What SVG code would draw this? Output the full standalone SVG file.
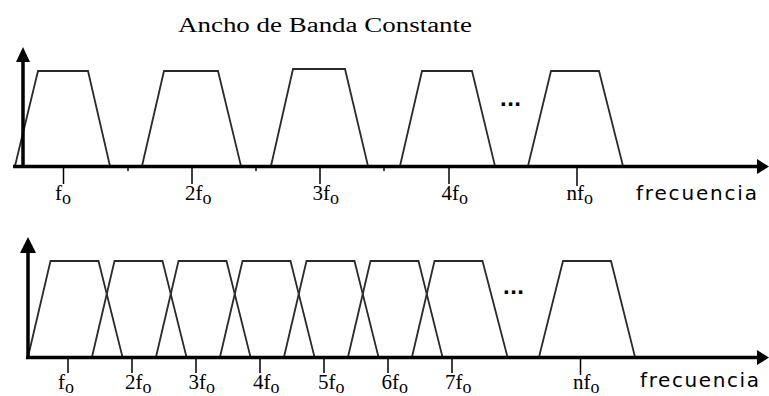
<svg xmlns="http://www.w3.org/2000/svg" width="769" height="396" viewBox="0 0 769 396">
<style>
.axis{stroke:#000;stroke-width:3.5;fill:none}
.tick{stroke:#000;stroke-width:1.5}
.band{fill:none;stroke:#2a2a2a;stroke-width:1.8;stroke-linejoin:miter}
.lbl{font-family:"Liberation Serif","Times New Roman",serif;font-size:21px;fill:#000}
.sub{font-size:18px}
.freq{font-family:"DejaVu Sans",Verdana,sans-serif;font-size:20px;fill:#000}
.dots{font-family:"Liberation Sans",Arial,sans-serif;font-size:24px;font-weight:bold;letter-spacing:0.5px;fill:#000}
.title{font-family:"Liberation Serif","Times New Roman",serif;font-size:20px;fill:#000}
</style>
<rect width="769" height="396" fill="#fff"/>
<text class="title" x="178" y="32" textLength="294" lengthAdjust="spacingAndGlyphs">Ancho de Banda Constante</text>

<g id="top-panel">
  <g id="top-bands">
    <polygon id="top-b1" class="band" points="15,166 38,71 88,71 110,166"/>
    <polygon id="top-b2" class="band" points="142,166 164,71 218,71 241,166"/>
    <polygon id="top-b3" class="band" points="271,166 293,69 345,69 368,166"/>
    <polygon id="top-b4" class="band" points="400,166 422,71 472,71 495,166"/>
    <polygon id="top-b5" class="band" points="528,166 551,71 599,71 623,166"/>
  </g>
  <g id="top-axes">
    <line class="axis" x1="23" y1="168" x2="23" y2="58"/>
    <polygon points="23,47 16,62 30,62" fill="#000"/>
    <line class="axis" x1="13" y1="166.5" x2="758" y2="166.5"/>
    <polygon points="769,166.5 757,159 757,174" fill="#000"/>
    <g class="tick">
      <line x1="63.5" y1="166" x2="63.5" y2="184"/>
      <line x1="192" y1="166" x2="192" y2="184"/>
      <line x1="320" y1="166" x2="320" y2="184"/>
      <line x1="449" y1="166" x2="449" y2="184"/>
      <line x1="577" y1="166" x2="577" y2="186"/>
      <line x1="128" y1="166" x2="128" y2="171"/>
      <line x1="256" y1="166" x2="256" y2="171"/>
      <line x1="384" y1="166" x2="384" y2="171"/>
    </g>
  </g>
  <text class="dots" x="500" y="106">...</text>
  <g id="top-labels">
    <text class="lbl" x="55" y="200">f<tspan class="sub" dy="4">o</tspan></text>
    <text class="lbl" x="185" y="200">2f<tspan class="sub" dy="4">o</tspan></text>
    <text class="lbl" x="312.5" y="200">3f<tspan class="sub" dy="4">o</tspan></text>
    <text class="lbl" x="441.5" y="200">4f<tspan class="sub" dy="4">o</tspan></text>
    <text class="lbl" x="566.5" y="200">nf<tspan class="sub" dy="4">o</tspan></text>
    <text class="freq" x="636" y="200" textLength="121" lengthAdjust="spacing">frecuencia</text>
  </g>
</g>

<g id="bottom-panel">
  <g id="bottom-bands">
    <polygon id="bot-b1" class="band" points="28,357 50.5,261 98.5,261 122.5,357"/>
    <polygon id="bot-b2" class="band" points="92,357 114.5,261 162.5,261 186.5,357"/>
    <polygon id="bot-b3" class="band" points="156,357 178.5,261 226.5,261 250.5,357"/>
    <polygon id="bot-b4" class="band" points="220,357 242.5,261 290.5,261 314.5,357"/>
    <polygon id="bot-b5" class="band" points="284,357 306.5,261 354.5,261 378.5,357"/>
    <polygon id="bot-b6" class="band" points="348,357 370.5,261 418.5,261 442.5,357"/>
    <polygon id="bot-b7" class="band" points="412,357 434.5,261 482.5,261 507.5,357"/>
    <polygon id="bot-bn" class="band" points="539,357 563,261 611,261 635,357"/>
  </g>
  <g id="bottom-axes">
    <line class="axis" x1="28" y1="359" x2="28" y2="248"/>
    <polygon points="28,237 20,253 36,253" fill="#000"/>
    <line class="axis" x1="26" y1="357.5" x2="758" y2="357.5"/>
    <polygon points="769,357.5 757,350 757,365" fill="#000"/>
    <g class="tick">
      <line x1="68" y1="357" x2="68" y2="373"/>
      <line x1="132" y1="357" x2="132" y2="373"/>
      <line x1="196" y1="357" x2="196" y2="373"/>
      <line x1="260" y1="357" x2="260" y2="373"/>
      <line x1="324" y1="357" x2="324" y2="373"/>
      <line x1="388" y1="357" x2="388" y2="373"/>
      <line x1="452" y1="357" x2="452" y2="373"/>
      <line x1="580.5" y1="357" x2="580.5" y2="375"/>
    </g>
  </g>
  <text class="dots" x="503" y="294">...</text>
  <g id="bottom-labels">
    <text class="lbl" x="58" y="389">f<tspan class="sub" dy="4">o</tspan></text>
    <text class="lbl" x="125" y="389">2f<tspan class="sub" dy="4">o</tspan></text>
    <text class="lbl" x="188.5" y="389">3f<tspan class="sub" dy="4">o</tspan></text>
    <text class="lbl" x="253" y="389">4f<tspan class="sub" dy="4">o</tspan></text>
    <text class="lbl" x="318" y="389">5f<tspan class="sub" dy="4">o</tspan></text>
    <text class="lbl" x="381.5" y="389">6f<tspan class="sub" dy="4">o</tspan></text>
    <text class="lbl" x="445" y="389">7f<tspan class="sub" dy="4">o</tspan></text>
    <text class="lbl" x="573" y="389">nf<tspan class="sub" dy="4">o</tspan></text>
    <text class="freq" x="640" y="387" textLength="119" lengthAdjust="spacing">frecuencia</text>
  </g>
</g>
</svg>
